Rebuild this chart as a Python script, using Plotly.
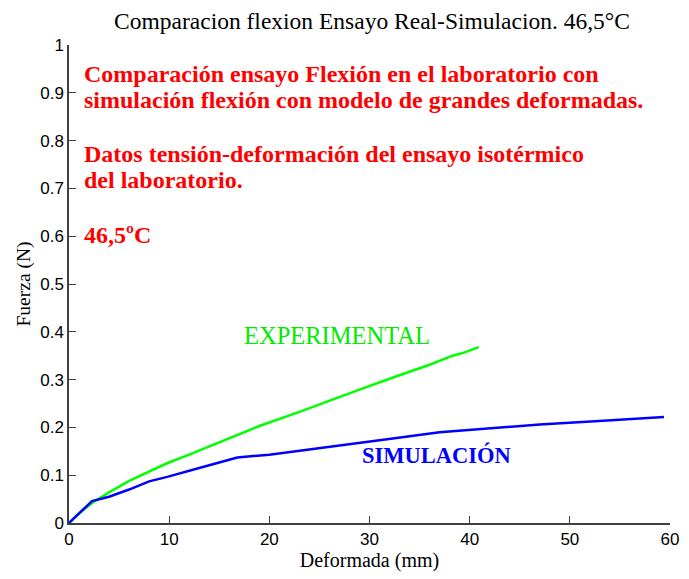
import plotly.graph_objects as go

# Experimental bending test (green) and large-deformation simulation (blue)
exp_x = [0, 1, 2.3, 4, 6, 8, 9.9, 12, 15.5, 19, 22.8, 26, 29, 32.7, 36, 38.3, 39.5, 40.9]
exp_y = [0, 0.02, 0.042, 0.064, 0.088, 0.108, 0.126, 0.143, 0.173, 0.203, 0.231,
         0.255, 0.279, 0.307, 0.331, 0.350, 0.357, 0.368]

sim_x = [0, 1, 2.3, 4, 6, 8, 9.9, 13, 16.8, 20, 22.8, 27, 32.7, 37, 42.6, 47, 52.5, 56, 59.4]
sim_y = [0, 0.02, 0.046, 0.055, 0.07, 0.087, 0.097, 0.115, 0.137, 0.143, 0.151,
         0.162, 0.178, 0.19, 0.199, 0.206, 0.213, 0.218, 0.222]

x_ticks = [0, 10, 20, 30, 40, 50, 60]
y_ticks = [0, 0.1, 0.2, 0.3, 0.4, 0.5, 0.6, 0.7, 0.8, 0.9, 1]

note_lines = [
    ("Comparación ensayo Flexión en el laboratorio con", 0.939),
    ("simulación flexión con modelo de grandes deformadas.", 0.884),
    ("Datos tensión-deformación del ensayo isotérmico", 0.771),
    ("del laboratorio.", 0.717),
    ("46,5ºC", 0.602),
]

serif = "Liberation Serif, Times New Roman, serif"
tickfont = dict(family="Liberation Sans, Arial, sans-serif", size=17, color="#000")

fig = go.Figure()
fig.add_trace(go.Scatter(x=exp_x, y=exp_y, mode="lines",
                         line=dict(color="rgb(0,255,0)", width=2.5), showlegend=False))
fig.add_trace(go.Scatter(x=sim_x, y=sim_y, mode="lines",
                         line=dict(color="rgb(0,0,255)", width=2.5), showlegend=False))

for text, yv in note_lines:
    fig.add_annotation(x=1.3, y=yv, text="<b>" + text + "</b>", showarrow=False,
                       xanchor="left", yanchor="middle",
                       font=dict(family=serif, size=24, color="rgb(255,0,0)"))

fig.add_annotation(x=17.3, y=0.393, text="EXPERIMENTAL", showarrow=False,
                   xanchor="left", yanchor="middle",
                   font=dict(family=serif, size=24.5, color="rgb(0,235,0)"))
fig.add_annotation(x=29.1, y=0.142, text="<b>SIMULACIÓN</b>", showarrow=False,
                   xanchor="left", yanchor="middle",
                   font=dict(family=serif, size=22.5, color="rgb(0,0,255)"))

fig.update_layout(
    width=689, height=579,
    margin=dict(l=69, r=10, t=45, b=56),
    paper_bgcolor="white", plot_bgcolor="white",
    title=dict(text="Comparacion flexion Ensayo Real-Simulacion. 46,5°C",
               x=372 / 689, xref="container", xanchor="center",
               y=1 - 21 / 579, yanchor="middle",
               font=dict(family=serif, size=23.5, color="#000")),
    xaxis=dict(range=[0, 60], tickvals=x_ticks, ticks="inside", ticklen=7,
               tickcolor="#404040", showline=True, linecolor="#404040", linewidth=1.5,
               showgrid=False, zeroline=False, tickfont=tickfont,
               ticklabeloverflow="allow",
               title=dict(text="Deformada (mm)", standoff=4,
                          font=dict(family=serif, size=20, color="#000"))),
    yaxis=dict(range=[0, 1], tickvals=y_ticks, ticks="inside", ticklen=7,
               tickcolor="#404040", showline=True, linecolor="#404040", linewidth=1.5,
               showgrid=False, zeroline=False, tickfont=tickfont,
               title=dict(text="Fuerza (N)", standoff=4,
                          font=dict(family=serif, size=19.5, color="#000"))),
)

fig.write_html("out.html")
